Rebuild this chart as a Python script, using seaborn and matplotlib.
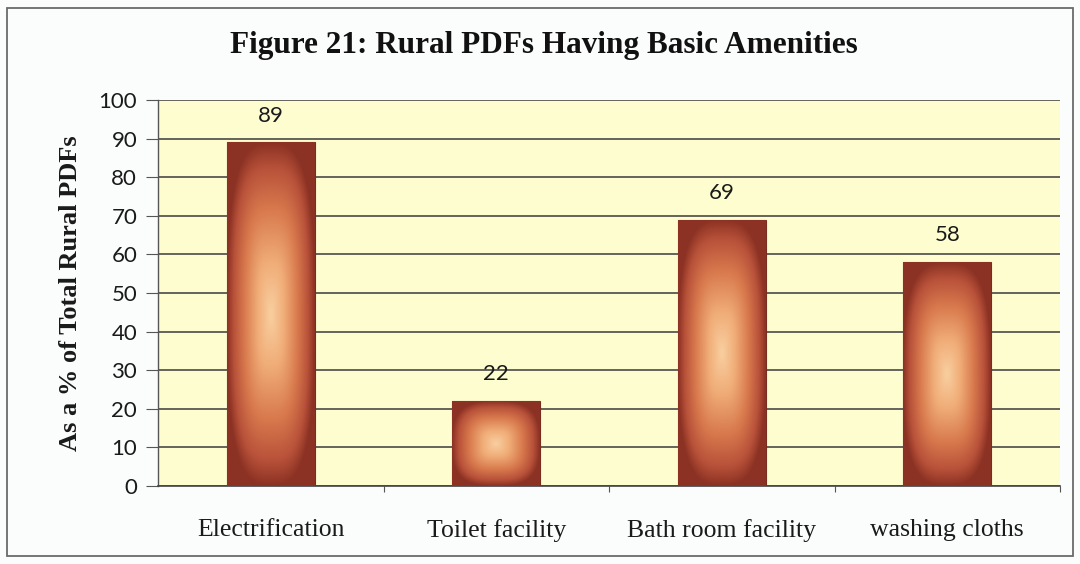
import numpy as np
import pandas as pd
import matplotlib
matplotlib.use("Agg")
import matplotlib.pyplot as plt
from matplotlib.colors import LinearSegmentedColormap
from matplotlib.patches import Rectangle
from matplotlib.ticker import FixedLocator
import seaborn as sns

# Share of rural PDFs with each amenity (%)
amenities = ["Electrification", "Toilet facility", "Bath room facility", "washing cloths"]
shares = [89, 22, 69, 58]
y_ticks = list(range(0, 101, 10))

title = "Figure 21: Rural PDFs Having Basic Amenities"
y_label = "As a % of Total Rural PDFs"

sns.set_style("white")
plt.rcParams["font.family"] = ["Lato", "DejaVu Sans"]

df = pd.DataFrame({"amenity": amenities, "share": shares})

fig = plt.figure(figsize=(10.8, 5.64), dpi=100, facecolor="#fbfcfc")
ax = fig.add_axes([158 / 1080, 78 / 564, 902 / 1080, 386 / 564])
ax.set_facecolor("#fefdd0")

sns.barplot(data=df, x="amenity", y="share", ax=ax, width=0.39,
            color="#b5563a", linewidth=0, zorder=3)

# Rounded "from centre" gradient fill for every bar
grad_cmap = LinearSegmentedColormap.from_list(
    "amber", [(0.0, "#f9cfa0"), (0.3, "#f0ad78"), (0.6, "#d97b4e"),
              (0.85, "#b9523a"), (1.0, "#8c3224")])
ny, nx = 300, 120
yy, xx = np.mgrid[-1:1:ny * 1j, -1:1:nx * 1j]
for patch in ax.patches:
    x0, y0 = patch.get_x(), patch.get_y()
    w, h = patch.get_width(), patch.get_height()
    d = (np.abs(xx) ** 3 + np.abs(yy) ** 3) ** (1 / 3)
    d = np.clip(d, 0, 1)
    im = ax.imshow(d, cmap=grad_cmap, vmin=0, vmax=1, aspect="auto",
                   extent=[x0, x0 + w, y0, y0 + h], origin="lower",
                   interpolation="bilinear", zorder=3.5)
    im.set_clip_path(patch)
    patch.set_facecolor("none")
    patch.set_edgecolor("#7a2c1e")
    patch.set_linewidth(0.8)

for container in ax.containers:
    ax.bar_label(container, fmt="%d", padding=12, fontsize=16,
                 color="#1a1a1a", zorder=5)

ax.set_xlim(-0.5, 3.5)
ax.set_ylim(0, 100)
ax.set_yticks(y_ticks)
ax.yaxis.grid(True, color="#3a3a3a", linewidth=1.1, zorder=1)
ax.set_axisbelow(True)

for side in ["top", "right"]:
    ax.spines[side].set_visible(False)
ax.spines["left"].set_color("#555555")
ax.spines["bottom"].set_color("#444444")
ax.spines["left"].set_linewidth(1.0)
ax.spines["bottom"].set_linewidth(1.2)

ax.tick_params(axis="y", which="major", left=True, length=9, width=0.8,
               color="#555555", labelsize=16, labelcolor="#1a1a1a", pad=6)
ax.xaxis.set_minor_locator(FixedLocator([0.5, 1.5, 2.5, 3.5]))
ax.tick_params(axis="x", which="major", bottom=False, pad=20)
ax.tick_params(axis="x", which="minor", bottom=True, length=4, width=0.8,
               color="#555555")
for lbl in ax.get_xticklabels():
    lbl.set_fontfamily("Liberation Serif")
    lbl.set_fontsize(18.5)
    lbl.set_color("#1a1a1a")

ax.set_xlabel("")
ax.set_ylabel(y_label, fontfamily="Liberation Serif", fontweight="bold",
              fontsize=19, color="#1a1a1a", labelpad=12)

fig.text(544 / 1080, 1 - 46 / 564, title, ha="center", va="center",
         fontfamily="Liberation Serif", fontweight="bold", fontsize=22.5,
         color="#111111")

# Chart frame
fig.patches.append(Rectangle((7 / 1080, 8 / 564), 1066 / 1080, 548 / 564,
                             transform=fig.transFigure, fill=False,
                             edgecolor="#6a6a6a", linewidth=1.3))

fig.savefig("out.png", dpi=100, facecolor=fig.get_facecolor())
